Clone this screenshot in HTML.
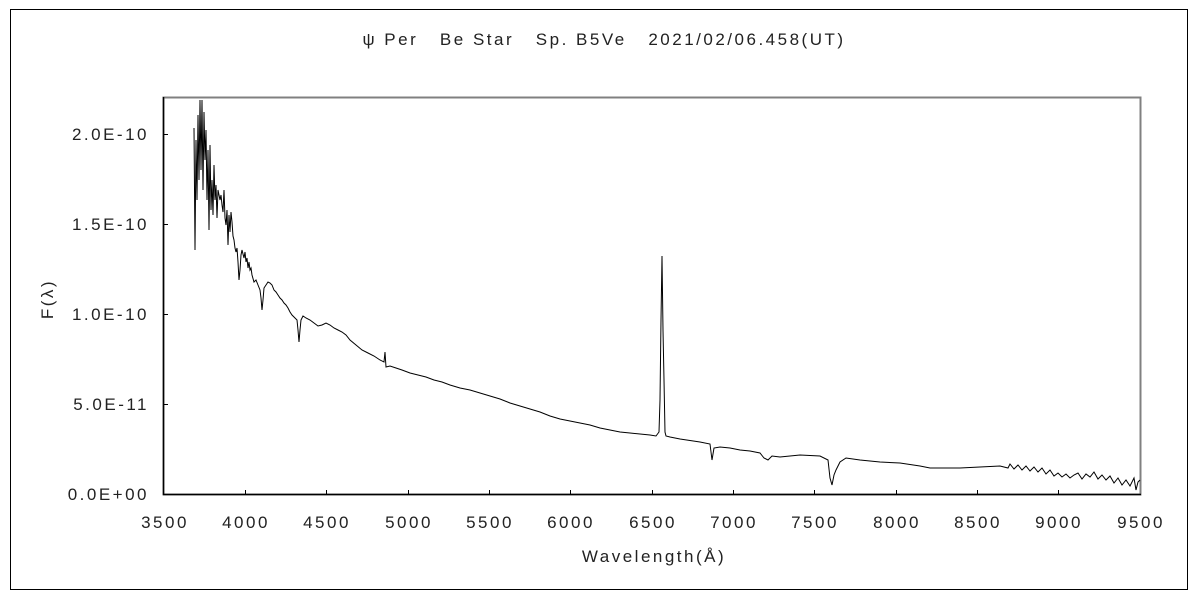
<!DOCTYPE html>
<html><head><meta charset="utf-8"><style>
body{margin:0;background:#fff}
svg{display:block}
text{font-family:"Liberation Sans","Noto Sans CJK JP",sans-serif;font-size:17px;fill:#222;letter-spacing:2.5px}
</style></head><body>
<svg width="1200" height="600" viewBox="0 0 1200 600">
<rect x="10.5" y="9.5" width="1177" height="580" fill="#fff" stroke="#000" stroke-width="1"/>
<text x="604" y="45" text-anchor="middle" xml:space="preserve">ψ Per   Be Star   Sp. B5Ve   2021/02/06.458(UT)</text>
<rect x="163.5" y="97.5" width="977" height="397" fill="#fff" stroke="#808080" stroke-width="2"/>
<line x1="163" y1="494.5" x2="1141" y2="494.5" stroke="#000" stroke-width="1.5"/>
<line x1="163.5" y1="97" x2="163.5" y2="495" stroke="#000" stroke-width="1.5"/>
<g stroke="#000" stroke-width="1">
<line x1="164" y1="134.5" x2="168" y2="134.5"/><line x1="164" y1="224.5" x2="168" y2="224.5"/>
<line x1="164" y1="314.5" x2="168" y2="314.5"/><line x1="164" y1="404.5" x2="168" y2="404.5"/>
<line x1="245.5" y1="494" x2="245.5" y2="490"/><line x1="326.5" y1="494" x2="326.5" y2="490"/>
<line x1="408.5" y1="494" x2="408.5" y2="490"/><line x1="489.5" y1="494" x2="489.5" y2="490"/>
<line x1="570.5" y1="494" x2="570.5" y2="490"/><line x1="652.5" y1="494" x2="652.5" y2="490"/>
<line x1="733.5" y1="494" x2="733.5" y2="490"/><line x1="814.5" y1="494" x2="814.5" y2="490"/>
<line x1="896.5" y1="494" x2="896.5" y2="490"/><line x1="977.5" y1="494" x2="977.5" y2="490"/>
<line x1="1058.5" y1="494" x2="1058.5" y2="490"/>
</g>
<g text-anchor="end">
<text x="149" y="140">2.0E-10</text><text x="149" y="230">1.5E-10</text>
<text x="149" y="320">1.0E-10</text><text x="149" y="410">5.0E-11</text>
<text x="149" y="500">0.0E+00</text>
</g>
<g text-anchor="middle">
<text x="165" y="528">3500</text><text x="246" y="528">4000</text><text x="327" y="528">4500</text>
<text x="409" y="528">5000</text><text x="490" y="528">5500</text><text x="571" y="528">6000</text>
<text x="653" y="528">6500</text><text x="734" y="528">7000</text><text x="815" y="528">7500</text>
<text x="897" y="528">8000</text><text x="978" y="528">8500</text><text x="1059" y="528">9000</text>
<text x="1141" y="528">9500</text>
<text x="654" y="562">Wavelength(Å)</text>
</g>
<text x="0" y="0" text-anchor="middle" transform="translate(53,299) rotate(-90)">F(λ)</text>
<polyline fill="none" stroke="#000" stroke-width="1" stroke-linejoin="miter" points="194,128 195,250 196,140 197,200 198,115 199,180 200,100 201,170 202,100 203,190 204,112 205,160 206,130 207,200 208,150 209,230 210,145 211,210 212,180 213,215 214,165 215,200 216,185 217,218 218,190 220,200 221,195 222,205 223,212 224,190 225,218 226,225 227,210 228,245 229,215 230,232 231,212 232,222 233,236 234,240 235,248 236,252 237,248 238,262 239,280 240,270 241,255 242,250 244,258 245,252 246,262 247,258 248,268 249,262 250,270 251,268 252,275 254,282 256,280 258,285 260,290 261,298 262,310 263,300 264,288 266,285 268,282 270,283 272,285 274,290 276,292 278,295 280,298 282,300 284,303 286,305 288,308 290,312 292,315 295,318 297,320 298,330 299,342 300,330 301,320 303,316 306,318 310,320 314,323 318,326 322,325 326,323 330,325 334,328 338,330 342,332 346,335 350,340 356,345 362,350 368,353 374,356 380,360 384,362 385,352 386,367 390,366 396,368 402,370 410,373 418,375 426,377 434,380 442,382 450,385 460,388 470,390 480,393 490,396 500,399 510,403 520,406 530,409 540,412 550,416 560,419 570,421 580,423 590,425 600,428 610,430 620,432 630,433 640,434 650,435 656,436 659,432 660,400 661,320 662,256 663,330 664,380 665,432 666,436 670,437 680,439 700,442 710,444 712,460 714,448 720,447 730,448 740,450 750,451 760,453 764,458 768,460 772,456 780,457 800,455 820,456 828,460 830,478 832,485 834,475 836,470 840,462 846,458 860,460 880,462 900,463 920,466 930,468 960,468 980,467 1000,466 1008,468 1010,464 1014,469 1018,465 1022,470 1026,466 1030,471 1034,467 1038,472 1042,468 1046,474 1050,470 1054,476 1058,473 1062,477 1066,474 1070,478 1074,475 1078,473 1082,479 1086,474 1090,477 1094,472 1098,479 1102,475 1106,480 1110,476 1114,483 1118,478 1122,485 1126,480 1130,486 1134,478 1136,490 1138,482 1140,480"/>
</svg>
</body></html>
